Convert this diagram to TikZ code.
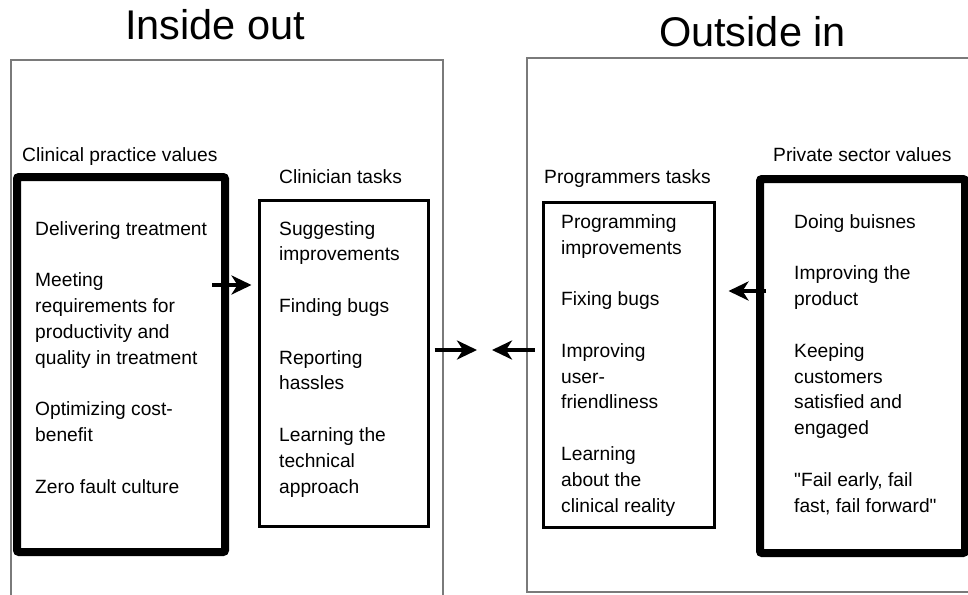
\documentclass[tikz,border=0pt]{standalone}
\usepackage{fontspec}
\setmainfont{Liberation Sans}
\usetikzlibrary{positioning, arrows.meta}
\definecolor{framegray}{HTML}{7A7A7A}

\begin{document}
\begin{tikzpicture}[
    x=1pt, y=-1pt,
    title/.style={font=\fontsize{41.5}{48}\selectfont, inner sep=0pt, anchor=base},
    lbl/.style={font=\fontsize{19.2}{25.8}\selectfont, inner sep=0pt, anchor=base west},
    items/.style={font=\fontsize{19.2}{25.8}\selectfont, inner sep=0pt,
                  anchor=base west, align=left},
    frame/.style={draw=framegray, line width=1.3pt},
    valbox/.style={draw, line width=8pt, rounded corners=2pt, inner sep=0pt},
    taskbox/.style={draw, line width=3pt, inner sep=0pt},
    arr/.style={-{Stealth[length=20pt 0 0, width=19pt 0 0, inset=6pt 0 0]}, line width=4.5pt},
]
\useasboundingbox (0,0) rectangle (968,594);
\clip (0,0) rectangle (968,594);

% the two sides
\draw[frame] (11,60) rectangle (443,600);
\draw[frame] (527,58) rectangle (980,592);
\node[title] (insideout) at (215,40) {Inside out};
\node[title] (outsidein) at (752.5,46) {Outside in};

% boxes
\node[valbox, minimum width=208pt, minimum height=375pt] (clinval) at (121,364.5) {};
\node[taskbox, minimum width=169pt, minimum height=326pt] (clintask) at (343.5,363) {};
\node[taskbox, minimum width=171pt, minimum height=325pt] (progtask) at (628.5,364.5) {};
\node[valbox, minimum width=205pt, minimum height=374pt] (privval) at (862.5,366) {};

% headings
\node[lbl] (clinvallbl) at (22,161) {Clinical practice values};
\node[lbl] (clintasklbl) at (279,183) {Clinician tasks};
\node[lbl] (progtasklbl) at (544,183) {Programmers tasks};
\node[lbl] (privvallbl) at (773,161) {Private sector values};

% contents (placed by the baseline of the last line)
\node[items] (clinvaltxt) at (35,493) {Delivering treatment\\[25.8pt]
    Meeting\\requirements for\\productivity and\\quality in treatment\\[25.8pt]
    Optimizing cost-\\benefit\\[25.8pt]
    Zero fault culture};
\node[items] (clintasktxt) at (279,493) {Suggesting\\improvements\\[25.8pt]
    Finding bugs\\[25.8pt]
    Reporting\\hassles\\[25.8pt]
    Learning the\\technical\\approach};
\node[items] (progtasktxt) at (561,512) {Programming\\improvements\\[25.8pt]
    Fixing bugs\\[25.8pt]
    Improving\\user-\\friendliness\\[25.8pt]
    Learning\\about the\\clinical reality};
\node[items] (privvaltxt) at (794,512) {Doing buisnes\\[25.8pt]
    Improving the\\product\\[25.8pt]
    Keeping\\customers\\satisfied and\\engaged\\[25.8pt]
    \textquotedbl Fail early, fail\\fast, fail forward\textquotedbl};

% arrows
\coordinate (meet) at (484.5,350);
\draw[arr] ([xshift=-17pt]clinval.east |- 0,285) -- ([xshift=-6pt]clintask.west |- 0,285);
\draw[arr] ([xshift=5pt]clintask.east |- meet) -- ([xshift=-7.5pt]meet);
\draw[arr] ([xshift=-7pt]progtask.west |- meet) -- ([xshift=7.5pt]meet);
\draw[arr] ([xshift=10pt]privval.west |- 0,291) -- ([xshift=13pt]progtask.east |- 0,291);
\end{tikzpicture}
\end{document}
